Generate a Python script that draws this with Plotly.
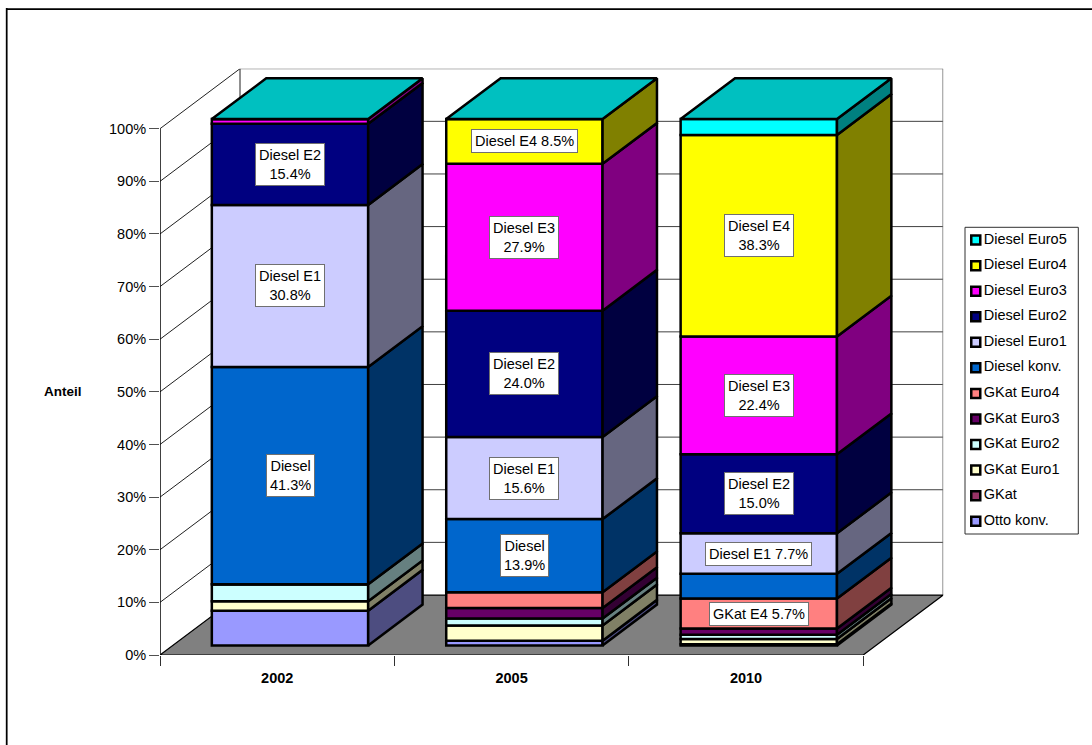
import plotly.graph_objects as go

# ---- data ----
years = ["2002", "2005", "2010"]
series = ["Otto konv.", "GKat", "GKat Euro1", "GKat Euro2", "GKat Euro3", "GKat Euro4",
          "Diesel konv.", "Diesel Euro1", "Diesel Euro2", "Diesel Euro3", "Diesel Euro4", "Diesel Euro5"]
short = ["Otto", "GKat", "GKat E1", "GKat E2", "GKat E3", "GKat E4",
         "Diesel", "Diesel E1", "Diesel E2", "Diesel E3", "Diesel E4", "Diesel E5"]
otto_konv = [6.6, 0.9, 0.2]
gkat = [0.0, 0.0, 0.0]
gkat_e1 = [1.8, 2.9, 1.0]
gkat_e2 = [3.2, 1.3, 0.8]
gkat_e3 = [0.0, 2.0, 1.2]
gkat_e4 = [0.0, 3.0, 5.7]
diesel = [41.3, 13.9, 4.7]
diesel_e1 = [30.8, 15.6, 7.7]
diesel_e2 = [15.4, 24.0, 15.0]
diesel_e3 = [0.9, 27.9, 22.4]
diesel_e4 = [0.0, 8.5, 38.3]
diesel_e5 = [0.0, 0.0, 3.0]
values = [otto_konv, gkat, gkat_e1, gkat_e2, gkat_e3, gkat_e4,
          diesel, diesel_e1, diesel_e2, diesel_e3, diesel_e4, diesel_e5]
unlabelled_series = ["Otto konv."]
front_colors = ["#9999FF", "#993366", "#FFFFCC", "#CCFFFF", "#660066", "#FF8080",
                "#0066CC", "#CCCCFF", "#000080", "#FF00FF", "#FFFF00", "#00FFFF"]
side_colors = ["#4D4D80", "#4D1A33", "#808066", "#668080", "#330033", "#804040",
               "#003366", "#666680", "#000040", "#800080", "#808000", "#008080"]
top_color = "#00C0C0"
y_ticks = list(range(0, 101, 10))

# ---- layout constants ----
W, H = 1092, 745
LAYOUT_H = H + 8                # the page draws the figure 8 px shorter than layout.height
PX0, PX_UNIT = 160.0, 234.4     # x pixel of category 0, pixels per category
PY0, PY_UNIT = 655.0, 5.263     # y pixel of 0 %, pixels per %
DEPTH_PX_X, DEPTH_PX_Y = 80.0, 60.0
DX = DEPTH_PX_X / PX_UNIT        # full depth in x data units
DY = DEPTH_PX_Y / PY_UNIT        # full depth in y data units
X_MAX = 3 + DX
Y_MAX = 100 + DY
BAR_W = 0.667
D_FRONT, D_BACK = 0.16, 0.84
LW = 2.5
FONT = "Liberation Sans"
FS = 14.5

fig = go.Figure()

# walls, floor, gridlines (behind the marks)
shapes = []
def poly(xs, ys, fill, line, width, layer="below"):
    path = "M " + " L ".join(f"{x},{y}" for x, y in zip(xs, ys)) + " Z"
    shapes.append(dict(type="path", path=path, fillcolor=fill, xref="x", yref="y",
                       line=dict(color=line, width=width), layer=layer))
def seg(x0, y0, x1, y1, color, width=1):
    shapes.append(dict(type="line", x0=x0, y0=y0, x1=x1, y1=y1, xref="x", yref="y",
                       line=dict(color=color, width=width), layer="below"))

for v in y_ticks[1:]:
    seg(0, v, DX, v + DY, "#202020")
    seg(DX, v + DY, X_MAX, v + DY, "#404040")
seg(0, 0, 0, 100, "#000000", 1.5)
seg(DX, DY, DX, Y_MAX, "#202020")
seg(X_MAX, DY, X_MAX, Y_MAX, "#707070", 1.5)
poly([0, 3, X_MAX, DX], [0, 0, DY, DY], "#808080", "#000000", 1.25)

# front faces: stacked bars, moved into the depth of the floor
cum = [0.0, 0.0, 0.0]
centers = [i + 0.5 + D_FRONT * DX for i in range(3)]
annotations = []
for s, vals in enumerate(values):
    base = [c + D_FRONT * DY for c in cum]
    fig.add_trace(go.Bar(x=centers, y=vals, base=base, width=BAR_W, name=series[s],
                         marker=dict(color=front_colors[s], line=dict(color="#000000", width=LW)),
                         showlegend=False, hovertemplate=series[s] + ": %{y:.1f}%<extra></extra>"))
    # side faces
    sx, sy = [], []
    for b, v in enumerate(vals):
        if v <= 0:
            continue
        xr = centers[b] + BAR_W / 2
        x_b = xr + (D_BACK - D_FRONT) * DX
        yb, yt = base[b], base[b] + v
        dy = (D_BACK - D_FRONT) * DY
        sx += [xr, x_b, x_b, xr, xr, None]
        sy += [yb, yb + dy, yt + dy, yt, yb, None]
        # data labels
        if v >= 5 and series[s] not in unlabelled_series:
            sep = " " if v < 10 else "<br>"
            annotations.append(dict(x=centers[b], y=yb + v / 2, xref="x", yref="y",
                                    text=f"{short[s]}{sep}{v:.1f}%", showarrow=False,
                                    bgcolor="#FFFFFF", bordercolor="#707070", borderwidth=1,
                                    borderpad=3, font=dict(family=FONT, size=FS, color="#000000")))
    fig.add_trace(go.Scatter(x=sx, y=sy, mode="lines", fill="toself", fillcolor=side_colors[s],
                             line=dict(color="#000000", width=LW), showlegend=False, hoverinfo="skip"))
    cum = [c + v for c, v in zip(cum, vals)]

# top faces
tx, ty = [], []
for b in range(3):
    xl = centers[b] - BAR_W / 2
    xr = centers[b] + BAR_W / 2
    yf = cum[b] + D_FRONT * DY
    d_x, d_y = (D_BACK - D_FRONT) * DX, (D_BACK - D_FRONT) * DY
    tx += [xl, xr, xr + d_x, xl + d_x, xl, None]
    ty += [yf, yf, yf + d_y, yf + d_y, yf, None]
fig.add_trace(go.Scatter(x=tx, y=ty, mode="lines", fill="toself", fillcolor=top_color,
                         line=dict(color="#000000", width=LW), showlegend=False, hoverinfo="skip"))

# legend drawn on its own small axes (top entry = last series)
legend_rows = list(range(len(series)))
fig.add_trace(go.Scatter(
    x=[0.095] * len(series), y=legend_rows, xaxis="x2", yaxis="y2", mode="markers",
    marker=dict(symbol="square", size=9, color=front_colors[::-1],
                line=dict(color="#000000", width=2.5)),
    showlegend=False, hoverinfo="skip", cliponaxis=False))
fig.add_trace(go.Scatter(
    x=[0.165] * len(series), y=legend_rows, xaxis="x2", yaxis="y2", mode="text",
    text=series[::-1], textposition="middle right",
    textfont=dict(family=FONT, size=FS, color="#000000"),
    showlegend=False, hoverinfo="skip", cliponaxis=False))

# legend frame and outer chart frame
LX0, LX1, LY0, LY1 = 965.0, 1078.3, 227.3, 534.0
shapes.append(dict(type="rect", xref="paper", yref="paper", x0=LX0 / W, x1=LX1 / W,
                   y0=1 - LY1 / H, y1=1 - LY0 / H, line=dict(color="#303030", width=1),
                   fillcolor="#FFFFFF", layer="below"))
shapes.append(dict(type="line", xref="paper", yref="paper", x0=6.7 / W, x1=6.7 / W, y0=0, y1=1 - 8 / H,
                   line=dict(color="#000000", width=1.75), layer="below"))
shapes.append(dict(type="line", xref="paper", yref="paper", x0=6 / W, x1=1, y0=1 - 9 / H, y1=1 - 9 / H,
                   line=dict(color="#000000", width=1.75), layer="below"))

annotations.append(dict(x=63 / W, y=50, xref="paper", yref="y", text="<b>Anteil</b>", showarrow=False,
                        xanchor="center", font=dict(family=FONT, size=13.5, color="#000000")))

x_right = PX0 + X_MAX * PX_UNIT
y_top = PY0 - Y_MAX * PY_UNIT
fig.update_layout(
    width=W, height=LAYOUT_H, margin=dict(l=0, r=0, t=0, b=0, pad=0),
    paper_bgcolor="#FFFFFF", plot_bgcolor="rgba(0,0,0,0)",
    barmode="overlay", showlegend=False, shapes=shapes, annotations=annotations,
    font=dict(family=FONT, size=FS, color="#000000"),
    xaxis=dict(domain=[PX0 / W, x_right / W], range=[0, X_MAX], tickvals=[0.5, 1.5, 2.5],
               ticktext=[f"<b>{y}</b>" for y in years], ticks="", ticklabelstandoff=12,
               showgrid=False, zeroline=False, showline=False,
               minor=dict(tickvals=[0, 1, 2, 3], ticks="outside", ticklen=10, tickcolor="#303030",
                          tickwidth=1, showgrid=False)),
    yaxis=dict(domain=[1 - PY0 / H, 1 - y_top / H], range=[0, Y_MAX], tickvals=y_ticks,
               ticktext=[f"{v}%" for v in y_ticks], ticks="outside", ticklen=10, tickcolor="#505050",
               tickwidth=1.2, showgrid=False, zeroline=False, showline=False, anchor="x"),
    xaxis2=dict(domain=[LX0 / W, LX1 / W], range=[0, 1], anchor="y2", visible=False, fixedrange=True),
    yaxis2=dict(domain=[1 - LY1 / H, 1 - LY0 / H], range=[11.5, -0.5], anchor="x2", visible=False, fixedrange=True),
)
fig.write_html("out.html", config=dict(displayModeBar=False, responsive=False),
               default_width=W, default_height=LAYOUT_H,
               post_script="document.body.style.margin='0';document.documentElement.style.overflow='hidden';")
